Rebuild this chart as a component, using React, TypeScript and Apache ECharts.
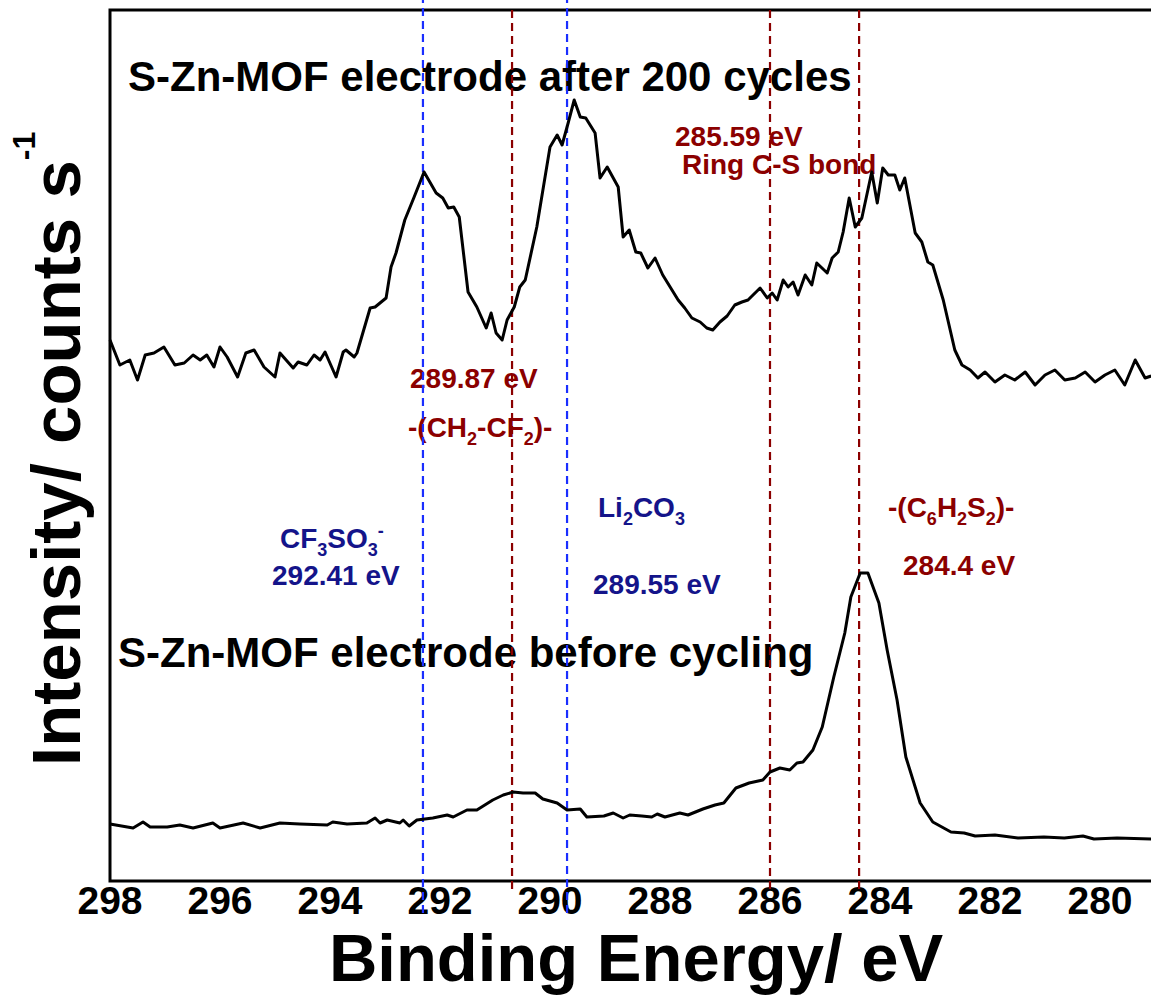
import React, { useEffect, useRef } from "react";
import * as echarts from "echarts";

// Binding energy (eV) vs intensity (a.u.)
const afterCycling: [number, number][] = [
  [298.00,54.1],[297.82,51.6],[297.64,52.1],[297.50,50.1],[297.36,52.6],[297.20,52.8],[297.02,53.4],[296.82,51.6],[296.65,51.8],[296.49,52.6],
  [296.36,52.1],[296.24,52.6],[296.11,51.4],[296.00,53.4],[295.87,52.4],[295.68,50.4],[295.53,52.8],[295.38,53.1],[295.20,51.4],[295.00,50.4],
  [294.91,52.8],[294.67,51.3],[294.58,51.9],[294.42,51.6],[294.29,52.6],[294.18,52.1],[294.09,52.9],[293.89,50.4],[293.76,52.9],[293.71,53.1],
  [293.56,52.4],[293.51,52.8],[293.27,57.3],[293.18,57.4],[292.98,58.3],[292.89,61.4],[292.80,62.8],[292.64,66.1],[292.47,68.4],[292.29,70.9],
  [292.07,68.8],[291.95,68.3],[291.85,67.3],[291.75,67.4],[291.65,66.4],[291.49,58.9],[291.33,57.4],[291.16,55.3],[291.07,56.8],[290.98,54.8],
  [290.87,54.1],[290.78,56.1],[290.65,57.4],[290.55,59.4],[290.45,60.1],[290.24,65.4],[290.00,73.4],[289.87,74.6],[289.78,73.6],[289.67,75.8],
  [289.56,78.1],[289.45,76.4],[289.35,76.3],[289.18,74.8],[289.09,70.3],[288.96,71.4],[288.76,69.4],[288.67,64.4],[288.56,65.1],[288.44,62.9],
  [288.35,62.8],[288.22,61.3],[288.09,62.3],[287.95,60.6],[287.67,58.1],[287.55,57.3],[287.42,56.3],[287.27,55.9],[287.15,55.3],[287.04,55.1],
  [286.91,55.9],[286.78,56.5],[286.64,57.6],[286.51,57.9],[286.40,58.1],[286.18,59.3],[286.05,58.3],[285.96,58.8],[285.87,58.1],[285.76,60.1],
  [285.67,59.4],[285.58,59.9],[285.49,58.6],[285.36,60.6],[285.24,59.6],[285.15,61.8],[284.96,60.8],[284.87,62.3],[284.76,62.9],[284.67,64.9],
  [284.56,68.3],[284.45,65.4],[284.33,66.3],[284.15,70.9],[284.05,67.8],[283.95,71.3],[283.85,70.6],[283.73,70.6],[283.64,69.1],[283.55,70.3],
  [283.36,64.8],[283.24,63.9],[283.13,61.9],[283.04,61.6],[282.85,58.1],[282.64,53.1],[282.51,51.6],[282.36,51.1],[282.22,50.3],[282.09,50.9],
  [281.91,49.9],[281.73,50.6],[281.55,50.1],[281.36,50.9],[281.18,49.6],[281.00,50.6],[280.82,51.1],[280.64,50.1],[280.45,50.3],[280.27,50.9],
  [280.09,49.9],[279.91,50.6],[279.73,51.1],[279.55,49.6],[279.36,52.1],[279.18,50.3],[279.07,50.5]
];

const beforeCycling: [number, number][] = [
  [298.00,5.7],[297.58,5.3],[297.40,5.9],[297.27,5.4],[296.96,5.4],[296.73,5.6],[296.49,5.3],[296.13,5.8],[296.00,5.3],[295.58,5.8],
  [295.27,5.3],[294.91,5.8],[294.55,5.7],[294.05,5.6],[293.95,5.9],[293.69,5.7],[293.33,5.8],[293.18,6.3],[293.09,5.8],[292.96,6.1],
  [292.73,5.8],[292.67,6.1],[292.56,5.5],[292.42,6.1],[292.13,6.3],[291.87,6.6],[291.76,6.4],[291.51,7.1],[291.33,7.1],[291.04,8.1],
  [290.85,8.6],[290.67,8.9],[290.49,8.8],[290.27,8.8],[290.13,8.2],[289.87,7.8],[289.69,7.1],[289.45,7.2],[289.33,6.4],[289.02,6.5],
  [288.85,6.8],[288.67,6.3],[288.55,6.6],[288.33,6.5],[288.15,6.4],[288.05,6.7],[287.91,6.4],[287.64,6.8],[287.49,6.6],[287.22,7.2],
  [287.00,7.6],[286.84,7.8],[286.62,9.3],[286.38,9.8],[286.13,10.1],[286.00,10.9],[285.82,11.3],[285.64,11.1],[285.51,11.8],[285.40,11.9],
  [285.22,13.1],[285.05,15.4],[284.84,20.4],[284.64,24.8],[284.53,28.4],[284.36,30.8],[284.22,30.8],[284.02,27.8],[283.87,23.1],[283.69,18.1],
  [283.53,12.4],[283.27,7.8],[283.04,5.9],[282.71,4.9],[282.47,4.8],[282.27,4.5],[281.91,4.6],[281.49,4.3],[281.02,4.4],[280.65,4.3],
  [280.31,4.5],[280.11,4.2],[279.69,4.3],[279.07,4.2]
];

// reference (dashed) line positions, eV
const blueRefLines = [292.31, 289.69];
const redRefLines = [290.69, 286.0, 284.38];

// x axis range / tick step (eV), y range (a.u.)
const xMin = 278;
const xMax = 298;
const xStep = 2;
const yMin = 0;
const yMax = 87.1;

const FONT = '"Liberation Sans", Arial, Helvetica, sans-serif';
const DARK_RED = "#8b0000";
const NAVY = "#14148a";
const BLUE_LINE = "#1a2eff";

function plainText(x: number, y: number, text: string, size: number, color: string, align = "left") {
  return {
    type: "text",
    x,
    y,
    silent: true,
    style: {
      text,
      fill: color,
      fontSize: size,
      fontWeight: "bold",
      fontFamily: FONT,
      align,
      verticalAlign: "middle",
      textAlign: align,
      textVerticalAlign: "middle",
    },
  };
}

function chemText(x: number, y: number, text: string, color: string) {
  const base = { fill: color, color, fontWeight: "bold", fontFamily: FONT, verticalAlign: "top" };
  return {
    type: "text",
    x,
    y,
    silent: true,
    style: {
      text,
      fill: color,
      fontSize: 28,
      fontWeight: "bold",
      fontFamily: FONT,
      align: "left",
      verticalAlign: "top",
      textAlign: "left",
      textVerticalAlign: "top",
      rich: {
        n: { ...base, fontSize: 28, padding: [4, 0, 0, 0] },
        sub: { ...base, fontSize: 18, padding: [21, 0, 0, 0] },
        sup: { ...base, fontSize: 18, padding: [2, 0, 0, 0] },
      },
    },
  };
}

function refLine(e: number, color: string, top: number, bottom: number) {
  return {
    type: "line",
    data: [[e, bottom], [e, top]],
    symbol: "none",
    showSymbol: false,
    clip: false,
    silent: true,
    z: 3,
    lineStyle: { color, width: 2.2, type: [8, 5] },
  };
}

export default function App() {
  const ref = useRef<HTMLDivElement>(null);

  useEffect(() => {
    if (!ref.current) return;
    const chart = echarts.init(ref.current, null, { renderer: "svg" });

    const option: any = {
      animation: false,
      backgroundColor: "#ffffff",
      grid: {
        left: 110,
        top: 10,
        width: 1100,
        height: 871,
        outerBoundsMode: "none",
        containLabel: false,
        show: true,
        borderColor: "#000",
        borderWidth: 3,
        backgroundColor: "transparent",
      },
      xAxis: {
        type: "value",
        inverse: true,
        min: xMin,
        max: xMax,
        interval: xStep,
        axisLine: { show: false },
        axisTick: { show: false },
        splitLine: { show: false },
        axisLabel: {
          margin: 0,
          fontSize: 39,
          fontWeight: "bold",
          fontFamily: FONT,
          color: "#000",
          showMinLabel: false,
        },
      },
      yAxis: {
        type: "value",
        min: yMin,
        max: yMax,
        axisLine: { show: false },
        axisTick: { show: false },
        axisLabel: { show: false },
        splitLine: { show: false },
      },
      series: [
        ...blueRefLines.map((e) => refLine(e, BLUE_LINE, 88.1, -3.2)),
        ...redRefLines.map((e) => refLine(e, DARK_RED, 87.3, -0.8)),
        {
          type: "line",
          data: afterCycling,
          symbol: "none",
          showSymbol: false,
          silent: true,
          z: 4,
          lineStyle: { color: "#000", width: 3, join: "round" },
        },
        {
          type: "line",
          data: beforeCycling,
          symbol: "none",
          showSymbol: false,
          silent: true,
          z: 4,
          lineStyle: { color: "#000", width: 3, join: "round" },
        },
      ],
      graphic: [
        plainText(128, 76, "S-Zn-MOF electrode after 200 cycles", 42, "#000"),
        plainText(118, 652, "S-Zn-MOF electrode before cycling", 42, "#000"),
        plainText(410, 378, "289.87 eV", 28, DARK_RED),
        chemText(408, 409, "{n|-(CH}{sub|2}{n|-CF}{sub|2}{n|)-}", DARK_RED),
        plainText(675, 136, "285.59 eV", 28, DARK_RED),
        plainText(682, 164, "Ring C-S bond", 28, DARK_RED),
        chemText(280, 520, "{n|CF}{sub|3}{n|SO}{sub|3}{sup|-}", NAVY),
        plainText(272, 575, "292.41 eV", 28, NAVY),
        chemText(598, 489, "{n|Li}{sub|2}{n|CO}{sub|3}", NAVY),
        plainText(593, 584, "289.55 eV", 28, NAVY),
        chemText(888, 489, "{n|-(C}{sub|6}{n|H}{sub|2}{n|S}{sub|2}{n|)-}", DARK_RED),
        plainText(903, 565, "284.4 eV", 28, DARK_RED),
        plainText(636, 957, "Binding Energy/ eV", 67, "#000", "center"),
        {
          type: "text",
          x: 8,
          y: 766,
          rotation: Math.PI / 2,
          silent: true,
          style: {
            text: "{m|Intensity/ counts s}{s|-1}",
            fill: "#000",
            fontSize: 69,
            fontWeight: "bold",
            fontFamily: FONT,
            align: "left",
            verticalAlign: "top",
            textAlign: "left",
            textVerticalAlign: "top",
            rich: {
              m: { fill: "#000", color: "#000", fontSize: 69, fontWeight: "bold", fontFamily: FONT, verticalAlign: "top", padding: [14, 0, 0, 0] },
              s: { fill: "#000", color: "#000", fontSize: 32, fontWeight: "bold", fontFamily: FONT, verticalAlign: "top", padding: [0, 0, 0, 0] },
            },
          },
        },
      ],
    };

    chart.setOption(option);
    return () => chart.dispose();
  }, []);

  return (
    <div
      ref={ref}
      style={{ position: "fixed", left: 0, top: 0, width: 1151, height: 995, background: "#fff" }}
    />
  );
}
